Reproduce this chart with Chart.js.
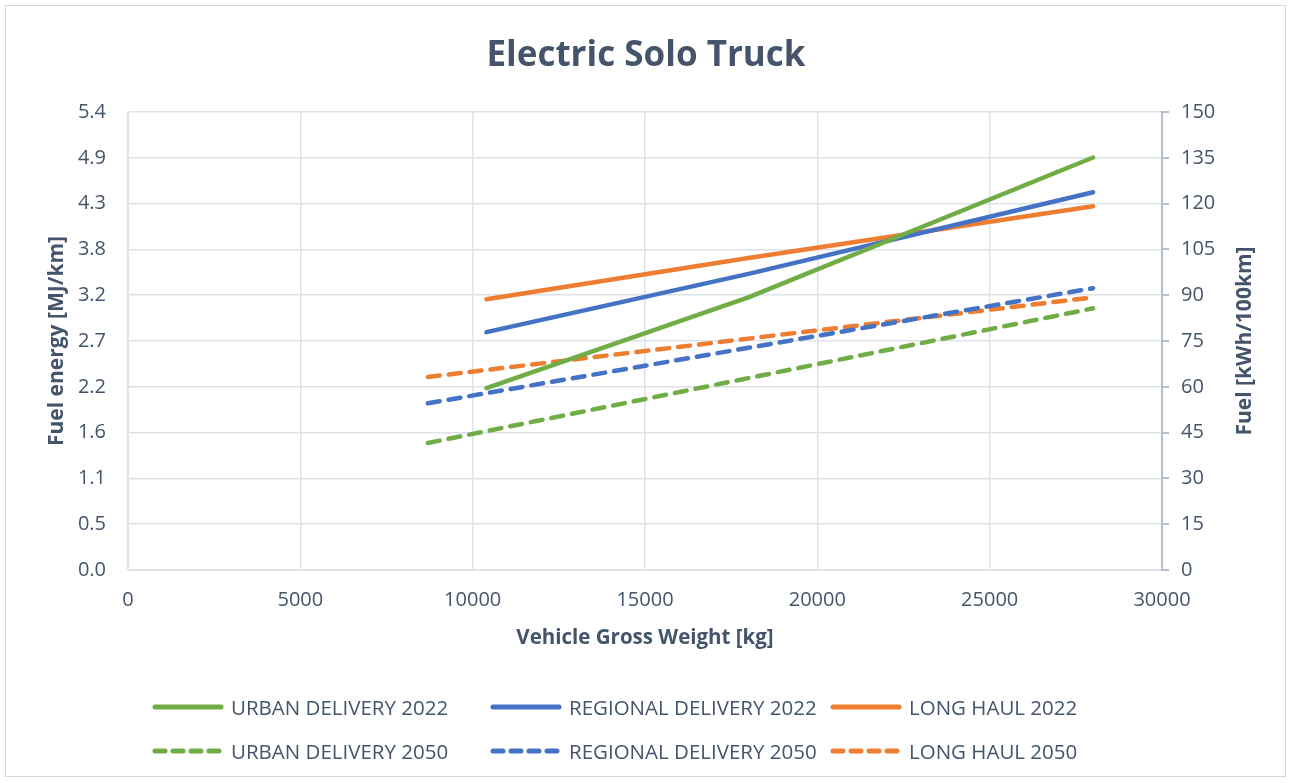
<!DOCTYPE html>
<html><head><meta charset="utf-8">
<script src="https://cdn.jsdelivr.net/npm/chart.js@4.4.1/dist/chart.umd.min.js"></script>
<style>
html,body{margin:0;padding:0;background:#fff;}
#wrap{position:absolute;left:0;top:0;width:1292px;height:783px;}
#frame{position:absolute;left:5px;top:5px;width:1281px;height:772px;border:1px solid #d9d9d9;box-sizing:border-box;pointer-events:none;}
#legend{position:absolute;left:152px;top:685px;display:grid;grid-template-columns:338px 340px 320px;grid-auto-rows:44px;
  font-family:"Open Sans",sans-serif;font-size:20.5px;color:#44546a;}
.item{display:flex;align-items:center;white-space:nowrap;}
.item svg{margin-right:7px;flex:none;}
</style></head>
<body><div id="wrap"><canvas id="c" width="1292" height="783"></canvas><div id="legend"></div><div id="frame"></div></div>
<script>
// ---- data (values in kWh/100km, x in kg) ----
const weights2022 = [10400, 18000, 28000];
const weights2050 = [8700, 28000];
const urban2022 = [59.6, 89.3, 135.1];
const regional2022 = [77.9, 97.0, 123.7];
const longHaul2022 = [88.7, 102.2, 119.1];
const urban2050 = [41.6, 85.7];
const regional2050 = [54.6, 92.3];
const longHaul2050 = [63.2, 89.3];
const seriesNames = ['URBAN DELIVERY 2022','REGIONAL DELIVERY 2022','LONG HAUL 2022','URBAN DELIVERY 2050','REGIONAL DELIVERY 2050','LONG HAUL 2050'];
const xTicks = [0, 5000, 10000, 15000, 20000, 25000, 30000];
const leftTicks = ['0.0','0.5','1.1','1.6','2.2','2.7','3.2','3.8','4.3','4.9','5.4'];
const rightTicks = [0, 15, 30, 45, 60, 75, 90, 105, 120, 135, 150];

const GREEN = '#70ad47', BLUE = '#4472c4', ORANGE = '#ed7d31';
const TXT = '#44546a';
const GRID = '#dde1e8';
const FONT = '"Open Sans", sans-serif';
Chart.defaults.font.family = FONT;
Chart.defaults.color = TXT;

function pts(xs, ys){ return xs.map((x,i)=>({x:x, y:ys[i]})); }
function ds(label, xs, ys, color, dashed){
  return {label, data: pts(xs, ys), borderColor: color, backgroundColor: color,
    borderWidth: 4.5, borderDash: dashed ? [12, 9] : [], borderCapStyle: 'round',
    borderJoinStyle: 'round', pointRadius: 0, pointHoverRadius: 0, tension: 0,
    fill: false, yAxisID: 'yR', dashed};
}

const rightTitle = {
  id: 'rightTitle',
  afterDraw(chart) {
    const {ctx, chartArea} = chart;
    ctx.save();
    ctx.translate(1245, (chartArea.top + chartArea.bottom) / 2);
    ctx.rotate(-Math.PI / 2);
    ctx.font = 'bold 21px ' + FONT;
    ctx.fillStyle = TXT;
    ctx.textAlign = 'center';
    ctx.textBaseline = 'middle';
    ctx.fillText('Fuel [kWh/100km]', 0, 0);
    ctx.restore();
  }
};

const chart = new Chart(document.getElementById('c'), {
  type: 'line',
  data: { datasets: [
    ds(seriesNames[0], weights2022, urban2022, GREEN, false),
    ds(seriesNames[1], weights2022, regional2022, BLUE, false),
    ds(seriesNames[2], weights2022, longHaul2022, ORANGE, false),
    ds(seriesNames[3], weights2050, urban2050, GREEN, true),
    ds(seriesNames[4], weights2050, regional2050, BLUE, true),
    ds(seriesNames[5], weights2050, longHaul2050, ORANGE, true),
  ]},
  plugins: [rightTitle],
  options: {
    responsive: false, animation: false,
    layout: { padding: { left: 0, right: 0, top: 0, bottom: 133 } },
    plugins: {
      tooltip: { enabled: false },
      legend: { display: false },
      title: { display: true, text: 'Electric Solo Truck', color: TXT,
        font: { size: 35, weight: 'bold', family: FONT }, padding: { top: 35, bottom: 35 } }
    },
    scales: {
      x: { type: 'linear', min: xTicks[0], max: xTicks[xTicks.length-1],
        afterBuildTicks: (s) => { s.ticks = xTicks.map(v => ({value: v})); },
        ticks: { font: { size: 20 }, color: TXT, padding: 18, maxRotation: 0, callback: (v) => String(v) },
        grid: { color: GRID, lineWidth: 1.5, drawTicks: false },
        border: { color: GRID },
        title: { display: true, text: 'Vehicle Gross Weight [kg]', font: { size: 20.5, weight: 'bold' }, color: TXT, padding: { top: 0, bottom: 0 } },
        afterFit: (s) => { s.height = 80; }
      },
      yL: { type: 'linear', position: 'left', min: 0, max: 5.4,
        afterBuildTicks: (s) => { s.ticks = leftTicks.map((t, i) => ({value: i * 0.54})); },
        ticks: { font: { size: 20 }, color: TXT, padding: 22,
          callback: (v, i) => leftTicks[i] },
        grid: { color: GRID, lineWidth: 1.5, drawTicks: false },
        border: { color: GRID },
        title: { display: true, text: 'Fuel energy [MJ/km]', font: { size: 21, weight: 'bold' }, color: TXT, padding: { top: 44, bottom: 0 } },
        afterFit: (s) => { s.width = 128; }
      },
      yR: { type: 'linear', position: 'right', min: 0, max: 150,
        afterBuildTicks: (s) => { s.ticks = rightTicks.map(v => ({value: v})); },
        ticks: { font: { size: 20 }, color: TXT, padding: 12 },
        grid: { drawOnChartArea: false, drawTicks: true, tickLength: 7, color: '#b4bfd0', lineWidth: 2 },
        border: { color: '#b4bfd0', width: 2 },
        title: { display: false },
        afterFit: (s) => { s.width = 130; }
      }
    }
  }
});

// HTML legend built from the chart's datasets
const legendEl = document.getElementById('legend');
chart.data.datasets.forEach((d) => {
  const item = document.createElement('div');
  item.className = 'item';
  const dash = d.dashed ? 'stroke-dasharray="10 8"' : '';
  item.innerHTML = '<svg width="72" height="10"><line x1="3" y1="5" x2="69" y2="5" stroke="' + d.borderColor +
    '" stroke-width="5" stroke-linecap="round" ' + dash + '/></svg><span>' + d.label + '</span>';
  legendEl.appendChild(item);
});
</script>
</body></html>
